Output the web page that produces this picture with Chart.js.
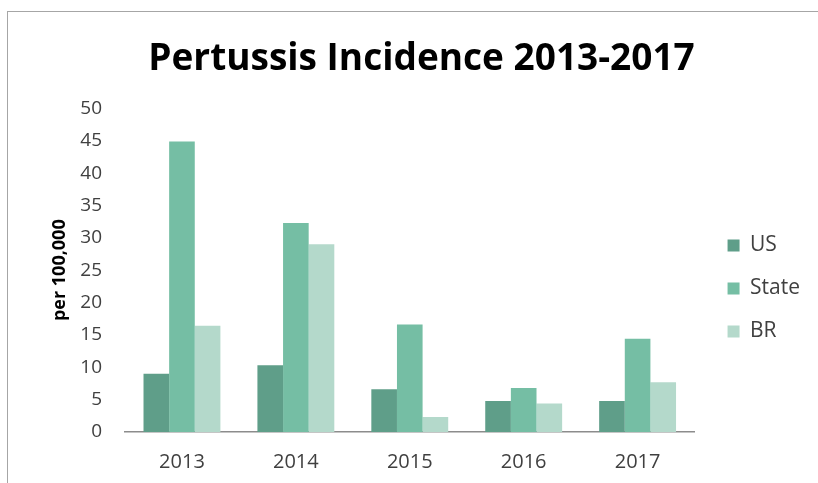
<!DOCTYPE html>
<html>
<head>
<meta charset="utf-8">
<script src="https://cdn.jsdelivr.net/npm/chart.js@4"></script>
<style>
  html, body { margin: 0; padding: 0; background: #ffffff; }
  #wrap { position: relative; width: 818px; height: 483px; overflow: hidden; }
  #frame { position: absolute; left: 7px; top: 11px; width: 820px; height: 480px;
           border-top: 1px solid #a6a6a6; border-left: 1px solid #a6a6a6; pointer-events: none; }
  canvas { position: absolute; left: 0; top: 0; }
</style>
</head>
<body>
<div id="wrap">
  <canvas id="c" width="818" height="483"></canvas>
  <div id="frame"></div>
</div>
<script>
const categories = ['2013', '2014', '2015', '2016', '2017'];
const usValues    = [9.0, 10.3, 6.6, 4.8, 4.8];
const stateValues = [44.9, 32.3, 16.6, 6.8, 14.4];
const brValues    = [16.4, 29.0, 2.3, 4.4, 7.7];
const yTicks = [0, 5, 10, 15, 20, 25, 30, 35, 40, 45, 50];

const FONT = '"Open Sans", sans-serif';

const layoutShift = {
  id: 'layoutShift',
  afterLayout(chart) {
    const lg = chart.legend;
    if (lg) {
      lg.left += 11; lg.right += 11;
      lg.top += 47; lg.bottom += 47;
    }
    const tb = chart.titleBlock;
    if (tb) { tb.left += 17; tb.right += 17; }
  }
};

const chart = new Chart(document.getElementById('c'), {
  type: 'bar',
  data: {
    labels: categories,
    datasets: [
      { label: 'US', data: usValues, backgroundColor: '#5f9e89' },
      { label: 'State', data: stateValues, backgroundColor: '#75bea4' },
      { label: 'BR', data: brValues, backgroundColor: '#b4d9cb' }
    ]
  },
  plugins: [layoutShift],
  options: {
    responsive: false,
    animation: false,
    layout: { padding: { left: 10, right: 19, top: 0, bottom: 0 } },
    datasets: { bar: { barPercentage: 1.0, categoryPercentage: 0.675, borderWidth: 0 } },
    plugins: {
      title: {
        display: true,
        text: 'Pertussis Incidence 2013-2017',
        color: '#000000',
        font: { family: FONT, size: 37, weight: 'bold' },
        padding: { top: 37, bottom: 27 }
      },
      legend: {
        position: 'right',
        labels: {
          color: '#404040',
          font: { family: FONT, size: 21 },
          boxWidth: 12, boxHeight: 12,
          padding: 22
        }
      },
      tooltip: { enabled: false }
    },
    scales: {
      x: {
        afterFit: s => { s.height = 51; },
        grid: { display: false, drawTicks: false },
        border: { display: true, color: '#8c8c8c', width: 1.5 },
        ticks: { color: '#404040', font: { family: FONT, size: 20 }, padding: 18 }
      },
      y: {
        min: 0, max: 50,
        afterBuildTicks: s => { s.ticks = yTicks.map(v => ({ value: v })); },
        afterFit: s => { s.width = 115; },
        grid: { display: false, drawTicks: false },
        border: { display: false },
        ticks: { color: '#404040', font: { family: FONT, size: 19 }, padding: 23 },
        title: {
          display: true, text: 'per 100,000', color: '#000000',
          font: { family: FONT, size: 18, weight: 'bold' }, padding: { top: 39, bottom: 0 }
        }
      }
    }
  }
});
</script>
</body>
</html>
